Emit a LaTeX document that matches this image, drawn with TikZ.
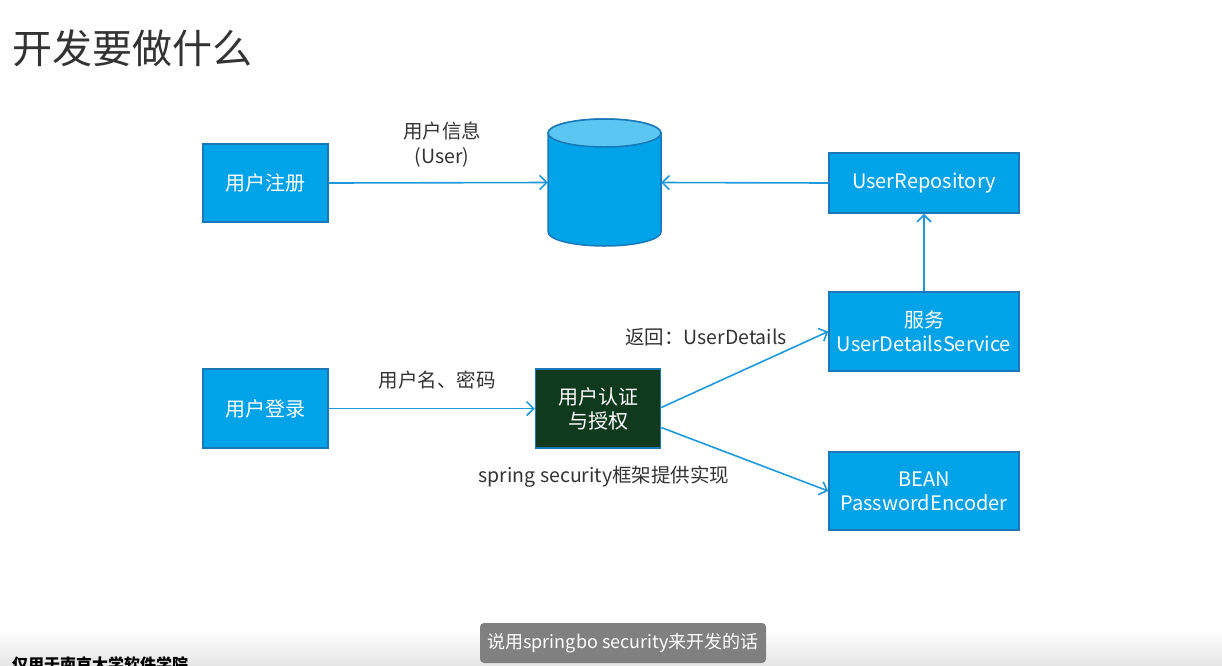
\documentclass[tikz,border=0pt]{standalone}
\usepackage{fontspec}
\setmainfont{Noto Sans CJK SC}
\usetikzlibrary{arrows.meta}
\definecolor{boxblue}{HTML}{00A2E8}
\definecolor{boxborder}{HTML}{1A78B8}
\definecolor{authgreen}{HTML}{0F3A1E}
\definecolor{arrowblue}{HTML}{1E9ADB}
\definecolor{dbtop}{HTML}{5CC6F2}
\definecolor{txt}{HTML}{333333}
\definecolor{subgray}{HTML}{808080}
\begin{document}
\begin{tikzpicture}[x=1pt,y=-1pt,
  bluebox/.style={draw=boxborder,line width=1.5pt,fill=boxblue,text=white,
    minimum width=#1,inner sep=0pt,align=center,font=\fontsize{20}{24}\selectfont},
  bluebox/.default=125pt,
  lbl/.style={text=txt,align=center,font=\fontsize{19.5}{25}\selectfont,inner sep=0pt},
  conn/.style={draw=arrowblue,line width=1.6pt,-{Straight Barb[length=7pt,width=14pt,line width=1.6pt]}}]
\useasboundingbox (0,0) rectangle (1222,665);
\begin{scope}
\clip (0,0) rectangle (1222,665);
\fill[white] (0,0) rectangle (1222,665);
\shade[top color=white,bottom color=black!10] (0,630) rectangle (1222,665);
% title
\node[anchor=west,text=txt,inner sep=0pt,font=\fontsize{40}{46}\selectfont] (title) at (12,48) {开发要做什么};
% boxes
\node[bluebox,minimum height=78pt] (reg) at (265.5,183) {用户注册};
\node[bluebox=190pt,minimum height=60pt] (repo) at (924,183) {UserRepository};
\node[bluebox=190pt,minimum height=79pt] (svc) at (924,331.5) {服务\\UserDetailsService};
\node[bluebox,minimum height=79pt] (login) at (265.5,408.5) {用户登录};
\node[bluebox,fill=authgreen,minimum height=79pt] (auth) at (598,408.5) {用户认证\\与授权};
\node[bluebox=190pt,minimum height=78pt] (enc) at (924,491) {BEAN\\PasswordEncoder};
% database
\node[minimum width=113pt,minimum height=127pt,inner sep=0pt] (db) at (604.5,182.5) {};
\filldraw[fill=boxblue,draw=boxborder,line width=1.5pt]
  (548,133) -- (548,232) arc[start angle=180,end angle=360,x radius=56.5pt,y radius=14pt]
  -- (661,133) arc[start angle=0,end angle=180,x radius=56.5pt,y radius=14pt] -- cycle;
\filldraw[fill=dbtop,draw=boxborder,line width=1.5pt] (604.5,133) ellipse[x radius=56.5pt,y radius=14pt];
% connectors
\draw[conn] (reg.east) -- (db.west);
\draw[conn] (repo.west) -- (db.east);
\draw[conn] (svc.north) -- (repo.south);
\draw[conn] (login.east) -- (auth.west);
\draw[conn] ([yshift=1pt]auth.east) -- (svc.west);
\draw[conn] ([yshift=-19pt]auth.east) -- (enc.west);
% labels
\node[lbl] (l1) at (442,145) {用户信息\\(User)};
\node[lbl] (l2) at (437,380) {用户名、密码};
\node[lbl] (l3) at (706,337) {返回：UserDetails};
\node[lbl] (l4) at (604,477) {spring security框架提供实现};
% subtitle
\node[fill=subgray,rounded corners=4pt,text=white,minimum width=286pt,minimum height=40pt,inner sep=0pt,font=\fontsize{18}{22}\selectfont] (sub) at (623,643) {说用springbo security来开发的话};
\node[anchor=north west,inner sep=0pt,font=\bfseries\fontsize{16}{18}\selectfont] (foot) at (12,656) {仅用于南京大学软件学院};
\end{scope}
\end{tikzpicture}
\end{document}
